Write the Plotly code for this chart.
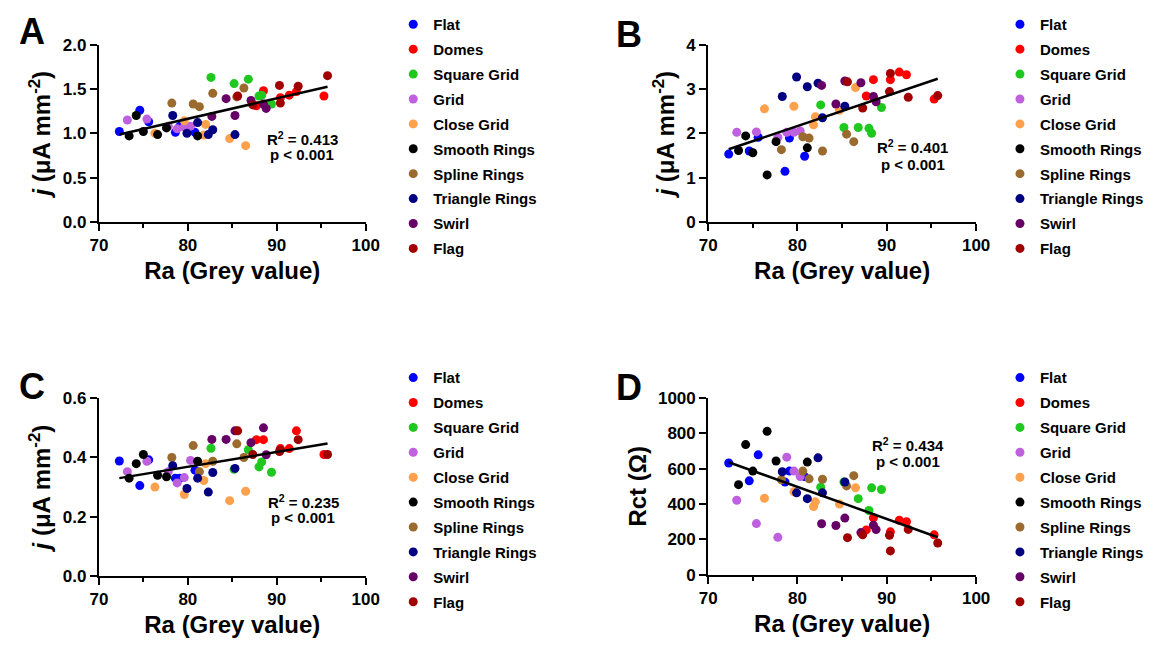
import numpy as np
import plotly.graph_objects as go

W, H = 1160, 648

series_names = ["Flat", "Domes", "Square Grid", "Grid", "Close Grid",
                "Smooth Rings", "Spline Rings", "Triangle Rings", "Swirl", "Flag"]
series_colors = ["#0000FF", "#FF0000", "#1EC81E", "#BF60DF", "#FFA04C",
                 "#000000", "#9A6A2E", "#000080", "#660066", "#A00000"]

# Ra (Grey value) of each sample, per series
ra_flat = [72.3, 74.6, 75.6, 78.6, 79.1, 80.8]
ra_domes = [87.7, 88.5, 90.4, 91.4, 92.2, 95.3]
ra_square = [82.6, 85.2, 86.8, 88.0, 88.3, 89.4]
ra_grid = [73.2, 75.4, 77.8, 78.8, 79.6, 80.3]
ra_close = [76.3, 79.6, 81.8, 82.0, 84.7, 86.5]
ra_smooth = [73.4, 74.2, 75.0, 76.6, 77.6, 81.1]
ra_spline = [78.2, 80.6, 81.3, 82.8, 85.5, 86.3]
ra_triangle = [78.3, 79.9, 81.1, 82.3, 82.8, 85.3]
ra_swirl = [82.7, 84.3, 85.3, 87.1, 88.5, 88.8]
ra_flag = [85.6, 87.3, 90.3, 90.4, 92.4, 95.7]

# Panel A: j (uA mm^-2)
a_flat = [1.02, 1.26, 1.13, 1.01, 1.08, 1.01]
a_domes = [1.31, 1.48, 1.40, 1.43, 1.47, 1.42]
a_square = [1.63, 1.56, 1.61, 1.42, 1.43, 1.33]
a_grid = [1.15, 1.16, 1.08, 1.05, 1.07, 1.08]
a_close = [1.00, 1.14, 0.98, 1.10, 0.94, 0.86]
a_smooth = [0.97, 1.20, 1.02, 0.985, 1.06, 0.97]
a_spline = [1.34, 1.33, 1.30, 1.45, 1.41, 1.51]
a_triangle = [1.20, 1.00, 1.12, 0.985, 1.04, 0.985]
a_swirl = [1.19, 1.39, 1.20, 1.37, 1.33, 1.28]
a_flag = [1.42, 1.32, 1.54, 1.34, 1.53, 1.65]

# Panel B: j (uA mm^-2)
b_flat = [1.53, 1.60, 1.91, 1.14, 1.89, 1.48]
b_domes = [2.84, 3.21, 3.21, 3.38, 3.32, 2.77]
b_square = [2.64, 2.13, 2.13, 2.11, 2.00, 2.58]
b_grid = [2.02, 2.03, 1.91, 2.02, 2.02, 2.05]
b_close = [2.55, 2.61, 2.19, 2.37, 2.52, 3.03]
b_smooth = [1.61, 1.94, 1.56, 1.06, 1.81, 1.67]
b_spline = [1.63, 1.92, 1.89, 1.60, 1.98, 1.81]
b_triangle = [2.83, 3.27, 3.05, 3.13, 2.35, 2.61]
b_swirl = [3.08, 2.66, 3.18, 3.14, 2.83, 2.71]
b_flag = [3.16, 2.57, 2.94, 3.35, 2.81, 2.85]

# Panel C: j (uA mm^-2)
c_flat = [0.388, 0.305, 0.392, 0.33, 0.33, 0.357]
c_domes = [0.46, 0.46, 0.43, 0.43, 0.49, 0.41]
c_square = [0.431, 0.36, 0.426, 0.368, 0.385, 0.35]
c_grid = [0.352, 0.387, 0.352, 0.314, 0.332, 0.39]
c_close = [0.30, 0.275, 0.322, 0.379, 0.254, 0.286]
c_smooth = [0.33, 0.379, 0.41, 0.34, 0.335, 0.387]
c_spline = [0.40, 0.44, 0.352, 0.387, 0.446, 0.40]
c_triangle = [0.372, 0.295, 0.33, 0.283, 0.349, 0.363]
c_swirl = [0.461, 0.461, 0.49, 0.45, 0.50, 0.409]
c_flag = [0.49, 0.41, 0.42, 0.425, 0.46, 0.41]

# Panel D: Rct (Ohm)
d_flat = [632, 531, 678, 524, 586, 555]
d_domes = [253, 322, 242, 308, 299, 225]
d_square = [495, 524, 430, 363, 491, 482]
d_grid = [421, 289, 211, 665, 586, 555]
d_close = [432, 469, 385, 412, 399, 491]
d_smooth = [509, 736, 586, 811, 643, 637]
d_spline = [537, 586, 542, 540, 502, 560]
d_triangle = [582, 463, 430, 661, 463, 524]
d_swirl = [288, 278, 320, 238, 280, 255]
d_flag = [209, 225, 223, 134, 256, 179]

ra_all = [ra_flat, ra_domes, ra_square, ra_grid, ra_close,
          ra_smooth, ra_spline, ra_triangle, ra_swirl, ra_flag]
panel_a = [a_flat, a_domes, a_square, a_grid, a_close, a_smooth, a_spline, a_triangle, a_swirl, a_flag]
panel_b = [b_flat, b_domes, b_square, b_grid, b_close, b_smooth, b_spline, b_triangle, b_swirl, b_flag]
panel_c = [c_flat, c_domes, c_square, c_grid, c_close, c_smooth, c_spline, c_triangle, c_swirl, c_flag]
panel_d = [d_flat, d_domes, d_square, d_grid, d_close, d_smooth, d_spline, d_triangle, d_swirl, d_flag]

stats_text = [("0.413", "0.001"), ("0.401", "0.001"), ("0.235", "0.001"), ("0.434", "0.001")]
panel_letters = ["A", "B", "C", "D"]

FONT = "Liberation Sans, Arial, sans-serif"


def px(x):
    return x / W


def py(y):
    return 1 - y / H


fig = go.Figure()

panels = [panel_a, panel_b, panel_c, panel_d]
legend_ids = ["legend", "legend2", "legend3", "legend4"]
for p, data in enumerate(panels):
    xa = "x" if p == 0 else f"x{p + 1}"
    ya = "y" if p == 0 else f"y{p + 1}"
    for i, name in enumerate(series_names):
        fig.add_trace(go.Scatter(
            x=ra_all[i], y=data[i], mode="markers", name=name,
            marker=dict(size=9, color=series_colors[i], line=dict(width=0)),
            xaxis=xa, yaxis=ya, legend=legend_ids[p],
            legendgroup=f"{p}-{name}", showlegend=True))
    xs = np.concatenate([np.array(v, float) for v in ra_all])
    ys = np.concatenate([np.array(v, float) for v in data])
    k, b0 = np.polyfit(xs, ys, 1)
    xl = np.array([xs.min(), xs.max()])
    fig.add_trace(go.Scatter(
        x=xl, y=k * xl + b0, mode="lines", line=dict(color="black", width=2.5),
        xaxis=xa, yaxis=ya, showlegend=False, hoverinfo="skip"))

x_dom_left = [px(91.7), px(364)]
x_dom_right = [px(713.3), px(986.7)]
y_dom_top = [py(219.3), py(36.7)]
y_dom_bot = [py(584), py(401)]

tickfont = dict(family=FONT, size=17, color="black", weight="bold")
titlefont = dict(family=FONT, size=24, color="black", weight="bold")

common_x = dict(range=[70, 100], tickvals=[70, 80, 90, 100], ticks="outside",
                ticklen=7, tickwidth=2, tickcolor="black", showline=True,
                linewidth=2, linecolor="black", showgrid=False, zeroline=False,
                tickfont=tickfont,
                minor=dict(tickvals=[75, 85, 95], ticks="outside", ticklen=4,
                           tickwidth=2, tickcolor="black", showgrid=False),
                title=dict(text="Ra (Grey value)", font=titlefont, standoff=8))
common_y = dict(ticks="outside", ticklen=7, tickwidth=2, tickcolor="black",
                showline=True, linewidth=2, linecolor="black", showgrid=False,
                zeroline=False, tickfont=tickfont)

j_title = "<i>j</i> (μA mm<sup>-2</sup>)"

fig.update_layout(
    width=W, height=H, autosize=False,
    margin=dict(l=0, r=0, t=0, b=0),
    paper_bgcolor="white", plot_bgcolor="white",
    font=dict(family=FONT, color="black"),
    xaxis=dict(domain=x_dom_left, anchor="y", **common_x),
    yaxis=dict(domain=y_dom_top, anchor="x", range=[0, 2.0],
               tickvals=[0, 0.5, 1.0, 1.5, 2.0], ticktext=["0.0", "0.5", "1.0", "1.5", "2.0"],
               title=dict(text=j_title, font=titlefont, standoff=5), **common_y),
    xaxis2=dict(domain=x_dom_right, anchor="y2", **common_x),
    yaxis2=dict(domain=y_dom_top, anchor="x2", range=[0, 4],
                tickvals=[0, 1, 2, 3, 4],
                title=dict(text=j_title, font=titlefont, standoff=5), **common_y),
    xaxis3=dict(domain=x_dom_left, anchor="y3", **common_x),
    yaxis3=dict(domain=y_dom_bot, anchor="x3", range=[0, 0.6],
                tickvals=[0, 0.2, 0.4, 0.6], ticktext=["0.0", "0.2", "0.4", "0.6"],
                title=dict(text=j_title, font=titlefont, standoff=5), **common_y),
    xaxis4=dict(domain=x_dom_right, anchor="y4", **common_x),
    yaxis4=dict(domain=[py(582.7), py(400.7)], anchor="x4", range=[0, 1000],
                tickvals=[0, 200, 400, 600, 800, 1000],
                title=dict(text="Rct (Ω)", font=titlefont, standoff=5), **common_y),
)

legend_font = dict(family=FONT, size=15, color="black", weight="bold")
legend_pos = [(px(392), py(-1)), (px(1011), py(-1)), (px(392), py(363)), (px(1011), py(363))]
for lid, (lx, ly) in zip(legend_ids, legend_pos):
    fig.update_layout({lid: dict(x=lx, y=ly, xanchor="left", yanchor="top",
                                 xref="paper", yref="paper",
                                 font=legend_font, tracegroupgap=2.4,
                                 bgcolor="rgba(0,0,0,0)", borderwidth=0,
                                 itemsizing="trace")})

letter_pos = [(23, 23), (633, 26), (23, 389), (633, 390)]
stat_pos = [(299, 133, 150), (922, 142, 160), (300, 507, 524), (917, 449, 466)]
annotations = []
for letter, (lx, ly) in zip(panel_letters, letter_pos):
    annotations.append(dict(x=px(lx), y=py(ly), xref="paper", yref="paper",
                            text=letter, showarrow=False, xanchor="center", yanchor="middle",
                            font=dict(family=FONT, size=36, color="black", weight="bold")))
for (r2, pv), (sx, sy1, sy2) in zip(stats_text, stat_pos):
    annotations.append(dict(x=px(sx), y=py(sy1), xref="paper", yref="paper",
                            text=f"R<sup>2</sup> = {r2}", showarrow=False,
                            xanchor="center", yanchor="middle",
                            font=dict(family=FONT, size=15, color="black", weight="bold")))
    annotations.append(dict(x=px(sx), y=py(sy2), xref="paper", yref="paper",
                            text=f"p < {pv}", showarrow=False,
                            xanchor="center", yanchor="middle",
                            font=dict(family=FONT, size=15, color="black", weight="bold")))
fig.update_layout(annotations=annotations)

fig.write_html("out.html", config={"displayModeBar": False},
               post_script="document.body.style.margin='0';document.body.style.overflow='hidden';")
